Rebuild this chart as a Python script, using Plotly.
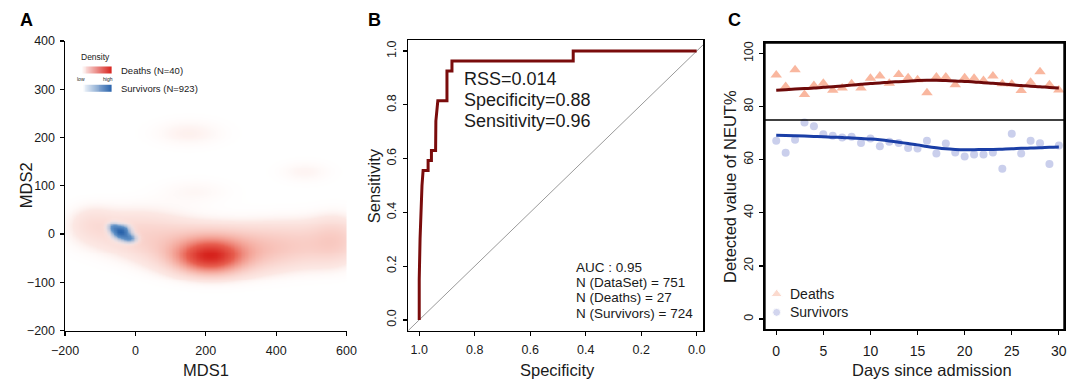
import numpy as np
import plotly.graph_objects as go

# The page adds an 8px body margin; size the figure so the page is 1084x388.
PAGE_W, PAGE_H, OFF = 1084, 388, 8
W, H = PAGE_W - 2 * OFF, PAGE_H - 2 * OFF
FONT = "Liberation Sans, Arial, sans-serif"

# ---------------- Panel A: density components (MDS1, MDS2) ----------------
death_cx = [210, 220, 0, -130, 450, 570, 150, 480, 170]
death_cy = [-45, -35, 5, 25, -20, -10, 210, 130, 90]
death_sx = [55, 110, 110, 45, 110, 50, 80, 60, 80]
death_sy = [20, 32, 35, 26, 35, 35, 22, 18, 20]
death_w = [1.0, 0.45, 0.17, 0.08, 0.2, 0.15, 0.07, 0.06, 0.05]

surv_cx = [-42, -18, -65]
surv_cy = [5, -8, 15]
surv_sx = [16, 14, 11]
surv_sy = [9, 6, 7]
surv_w = [1.0, 0.5, 0.4]

mds_xticks = [-200, 0, 200, 400, 600]
mds_yticks = [-200, -100, 0, 100, 200, 300, 400]

# ---------------- Panel B: ROC ----------------
roc_spec = [1.0, 1.0, 0.997, 0.994, 0.99, 0.986, 0.968, 0.968, 0.956, 0.956, 0.941,
            0.94, 0.933, 0.933, 0.90, 0.90, 0.882, 0.882, 0.445, 0.445, 0.0]
roc_sens = [0.0, 0.15, 0.30, 0.42, 0.50, 0.556, 0.556, 0.593, 0.593, 0.63, 0.63,
            0.74, 0.80, 0.815, 0.815, 0.926, 0.926, 0.963, 0.963, 1.0, 1.0]
roc_ticks = [1.0, 0.8, 0.6, 0.4, 0.2, 0.0]

# ---------------- Panel C: NEUT% by day ----------------
days = list(range(31))
deaths_val = [91.9, 87.6, 93.9, 84.6, 88.0, 88.8, 86.2, 87.0, 88.6, 87.0, 90.7,
              91.5, 88.8, 92.1, 90.9, 90.1, 85.2, 91.2, 91.2, 88.2, 90.9, 90.7,
              89.8, 91.5, 88.6, 88.5, 86.1, 89.2, 93.1, 88.2, 86.3]
surv_val = [67.2, 62.6, 67.5, 74.0, 72.6, 69.6, 69.0, 68.4, 68.7, 66.3, 68.0,
            65.1, 66.8, 66.3, 64.4, 64.2, 67.2, 62.4, 66.1, 62.7, 61.2, 62.0,
            62.0, 62.7, 56.6, 69.8, 62.4, 67.2, 66.2, 58.4, 65.4]
deaths_fit = [86.2, 86.4, 86.6, 86.8, 87.0, 87.3, 87.5, 87.8, 88.1, 88.4, 88.7,
              88.9, 89.2, 89.4, 89.6, 89.8, 89.9, 89.9, 89.8, 89.7, 89.5, 89.3,
              89.0, 88.8, 88.5, 88.2, 88.0, 87.7, 87.5, 87.2, 87.0]
surv_fit = [69.2, 69.1, 69.0, 68.9, 68.8, 68.7, 68.5, 68.4, 68.2, 68.0, 67.8,
            67.5, 67.1, 66.6, 66.1, 65.6, 65.0, 64.5, 64.1, 63.9, 63.8, 63.8,
            63.9, 63.9, 64.0, 64.1, 64.3, 64.4, 64.5, 64.7, 64.8]
legend_names = ["Deaths", "Survivors"]


def px(x):
    return min(1.0, max(0.0, (x - OFF) / W))


def py(y):
    return min(1.0, max(0.0, 1 - (y - OFF) / H))


gx = np.arange(-200, 601, 4)
gy = np.arange(-200, 401, 4)
GX, GY = np.meshgrid(gx, gy)


def mixture(cx, cy, sx, sy, w):
    z = np.zeros_like(GX, dtype=float)
    for a, b, s, t, k in zip(cx, cy, sx, sy, w):
        z += k * np.exp(-0.5 * ((GX - a) / s) ** 2 - 0.5 * ((GY - b) / t) ** 2)
    return z / z.max()


z_death = mixture(death_cx, death_cy, death_sx, death_sy, death_w)
z_surv = mixture(surv_cx, surv_cy, surv_sx, surv_sy, surv_w)

RED_CS = [[0, "rgba(255,255,255,0)"], [0.06, "rgba(252,232,228,1)"],
          [0.3, "rgba(245,172,160,1)"], [0.6, "rgba(232,95,80,1)"],
          [1, "rgba(214,34,28,1)"]]
BLUE_CS = [[0, "rgba(255,255,255,0)"], [0.1, "rgba(215,226,240,0.5)"],
           [0.5, "rgba(100,148,200,1)"], [1, "rgba(40,98,170,1)"]]
LEG_RED = [[0, "rgb(253,242,240)"], [1, "rgb(216,36,30)"]]
LEG_BLUE = [[0, "rgb(242,246,251)"], [1, "rgb(42,100,172)"]]

fig = go.Figure()

fig.add_trace(go.Heatmap(x=gx, y=gy, z=z_death, colorscale=RED_CS, zmin=0, zmax=1,
                         zsmooth="best", showscale=False, hoverinfo="skip",
                         xaxis="x", yaxis="y"))
fig.add_trace(go.Heatmap(x=gx, y=gy, z=z_surv, colorscale=BLUE_CS, zmin=0, zmax=1,
                         zsmooth="best", showscale=False, hoverinfo="skip",
                         xaxis="x", yaxis="y"))

# ROC
fig.add_trace(go.Scatter(x=[1.04, -0.04], y=[-0.04, 1.04], mode="lines",
                         line=dict(color="#9a9a9a", width=1), showlegend=False,
                         hoverinfo="skip", xaxis="x2", yaxis="y2"))
fig.add_trace(go.Scatter(x=roc_spec, y=roc_sens, mode="lines",
                         line=dict(color="#7A0C0C", width=3), showlegend=False,
                         xaxis="x2", yaxis="y2"))

# Panel C
fig.add_trace(go.Scatter(x=days, y=deaths_val, mode="markers", name="Deaths",
                         showlegend=False,
                         marker=dict(symbol="triangle-up", size=10,
                                     color="rgba(248,165,135,0.8)"),
                         xaxis="x3", yaxis="y3"))
fig.add_trace(go.Scatter(x=days, y=surv_val, mode="markers", name="Survivors",
                         showlegend=False,
                         marker=dict(symbol="circle", size=8,
                                     color="rgba(180,186,228,0.7)"),
                         xaxis="x3", yaxis="y3"))
fig.add_trace(go.Scatter(x=days, y=deaths_fit, mode="lines", showlegend=False,
                         line=dict(color="#6E0A0A", width=3, shape="spline"),
                         xaxis="x3", yaxis="y3"))
fig.add_trace(go.Scatter(x=days, y=surv_fit, mode="lines", showlegend=False,
                         line=dict(color="#1A3EA6", width=3, shape="spline"),
                         xaxis="x3", yaxis="y3"))

# Panel C legend keys (page-pixel overlay axis)
fig.add_trace(go.Scatter(x=[780, 780], y=[298, 317], mode="markers", showlegend=False,
                         hoverinfo="skip",
                         marker=dict(symbol=["triangle-up", "circle"], size=[10, 8],
                                     color=["rgba(250,200,182,0.95)",
                                            "rgba(185,190,230,0.9)"]),
                         xaxis="x4", yaxis="y4"))

# Panel A legend gradient bars (page-pixel overlay axis)
grad = np.linspace(0, 1, 30)
fig.add_trace(go.Heatmap(x=np.linspace(70, 100, 31), y=[61.5, 68.5], z=[grad],
                         colorscale=LEG_RED, zmin=0, zmax=1, showscale=False,
                         hoverinfo="skip", xaxis="x4", yaxis="y4"))
fig.add_trace(go.Heatmap(x=np.linspace(71, 100, 31), y=[80.5, 87.5], z=[grad],
                         colorscale=LEG_BLUE, zmin=0, zmax=1, showscale=False,
                         hoverinfo="skip", xaxis="x4", yaxis="y4"))

axis_common = dict(showline=True, linecolor="black", linewidth=1.5, ticks="outside",
                   ticklen=4, tickwidth=1.2, tickcolor="black", showgrid=False,
                   zeroline=False, tickfont=dict(size=12.5, color="#1a1a1a"))

layout = dict(
    width=W, height=H, autosize=False, margin=dict(l=0, r=0, t=0, b=0, pad=0),
    paper_bgcolor="white", plot_bgcolor="rgba(0,0,0,0)",
    font=dict(family=FONT, color="#1a1a1a"),
    showlegend=False,
    xaxis=dict(domain=[px(52), px(340)], range=[-200, 600], tickvals=mds_xticks,
               anchor="y", ticklabelstandoff=4, **axis_common),
    yaxis=dict(domain=[py(336), py(35)], range=[-200, 400], tickvals=mds_yticks,
               anchor="x", ticklabelstandoff=2, **axis_common),
    xaxis2=dict(domain=[px(403), px(705)], range=[1.04, -0.024], tickvals=roc_ticks,
                tickformat=".1f", anchor="y2", mirror=True, ticklabelstandoff=3,
                **axis_common),
    yaxis2=dict(domain=[py(336), py(34.3)], range=[-0.04, 1.04], tickvals=roc_ticks,
                tickformat=".1f", anchor="x2", mirror=True, tickangle=-90,
                ticklabelstandoff=2, **axis_common),
    xaxis3=dict(domain=[px(768), px(1074)], range=[-1.2, 30.55], dtick=5, tick0=0,
                anchor="y3", mirror=True, ticklabelstandoff=4, **axis_common),
    yaxis3=dict(domain=[py(335), py(37)], range=[-4, 104], dtick=20, tick0=0,
                anchor="x3", mirror=True, tickangle=-90, ticklabelstandoff=1,
                **axis_common),
    xaxis4=dict(domain=[0, 1], range=[OFF, OFF + W], visible=False, anchor="y4"),
    yaxis4=dict(domain=[0, 1], range=[OFF + H, OFF], visible=False, anchor="x4"),
)
fig.update_layout(**layout)
fig.update_xaxes(tickfont=dict(size=14), selector=dict(anchor="y3"))

# panel C frame and break line
fig.add_shape(type="rect", xref="x3 domain", yref="y3 domain", x0=0, x1=1, y0=0, y1=1,
              line=dict(color="black", width=1.5), layer="above")
fig.add_shape(type="line", xref="x3 domain", yref="y3", x0=0, x1=1, y0=75, y1=75,
              line=dict(color="black", width=1.5))


def ann(x, y, text, size, xanchor="center", angle=0, bold=False, color="#1a1a1a"):
    fig.add_annotation(x=px(x), y=py(y), xref="paper", yref="paper", text=text,
                       showarrow=False, xanchor=xanchor, yanchor="middle",
                       textangle=angle,
                       font=dict(size=size, family=FONT, color=color,
                                 weight="bold" if bold else "normal"))


# panel letters
ann(13, 13, "A", 18, bold=True, color="black")
ann(369, 13, "B", 18, bold=True, color="black")
ann(737, 13, "C", 18, bold=True, color="black")

# axis titles
ann(196, 377, "MDS1", 16.5)
ann(12, 185, "MDS2", 16.5, angle=-90)
ann(556, 377, "Specificity", 16.5)
ann(368, 185, "Sensitivity", 16.5, angle=-90)
ann(939, 377, "Days since admission", 16.5)
ann(733, 186, "Detected value of NEUT%", 16.5, angle=-90)

# panel A legend
ann(83, 52, "Density", 8.5)
ann(107, 66, "Deaths (N=40)", 9.5, xanchor="left")
ann(107, 84, "Survivors (N=923)", 9.5, xanchor="left")
ann(68, 75, "low", 5)
ann(95.5, 75, "high", 5)

# panel C legend text
ann(792, 298, legend_names[0], 14, xanchor="left")
ann(792, 317, legend_names[1], 14, xanchor="left")

# panel B text
ann(458.5, 75, "RSS=0.014", 18, xanchor="left")
ann(458.5, 96.7, "Specificity=0.88", 18, xanchor="left")
ann(458.5, 118.3, "Sensitivity=0.96", 18, xanchor="left")
ann(572.5, 270, "AUC : 0.95", 13.5, xanchor="left")
ann(572.5, 286, "N (DataSet) = 751", 13.5, xanchor="left")
ann(572.5, 302, "N (Deaths) = 27", 13.5, xanchor="left")
ann(572.5, 318, "N (Survivors) = 724", 13.5, xanchor="left")

fig.write_html("out.html", config={"displayModeBar": False, "staticPlot": True})
